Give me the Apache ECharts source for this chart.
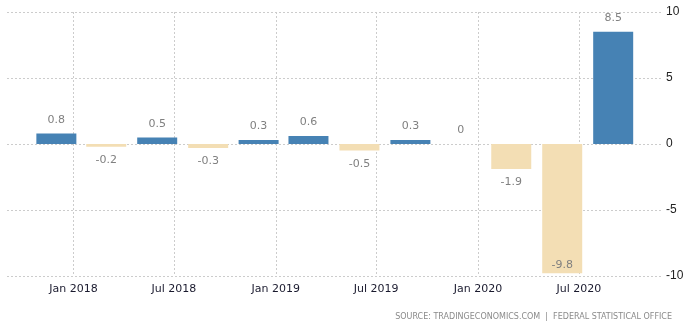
<!DOCTYPE html>
<html><head><meta charset="utf-8">
<script src="https://cdn.jsdelivr.net/npm/echarts@6/dist/echarts.min.js"></script>
<style>html,body{margin:0;padding:0;background:#fff}#c{width:692px;height:329px}</style>
</head><body><div id="c"></div>
<script>
var dates = ['2017-12-01','2018-03-01','2018-06-01','2018-09-01','2018-12-01','2019-03-01','2019-06-01','2019-09-01','2019-12-01','2020-03-01','2020-06-01','2020-09-01'];
var values = [0.8,-0.2,0.5,-0.3,0.3,0.6,-0.5,0.3,0,-1.9,-9.8,8.5];
var yTicks = [-10,-5,0,5,10];
var monthNames = ['Jan','Feb','Mar','Apr','May','Jun','Jul','Aug','Sep','Oct','Nov','Dec'];
var sourceText = 'SOURCE: TRADINGECONOMICS.COM  |  FEDERAL STATISTICAL OFFICE';
var DAY = 24*3600*1000;

var data = dates.map(function(d,i){
  var v = values[i];
  var lbl = {show:true, color:'#808080', fontSize:11, fontFamily:'DejaVu Sans', position: v<0?'bottom':'top', distance:8};
  if (v <= -9) { lbl.position = 'insideBottom'; lbl.distance = 3; }
  return {value:[d,v], itemStyle:{color: v<0 ? '#f3deb4' : '#4682b4'}, label:lbl};
});

var chart = echarts.init(document.getElementById('c'));
chart.setOption({
  animation:false,
  grid:{left:7, right:30, top:12, bottom:53},
  xAxis:{
    type:'time',
    min:'2017-10-09', max:'2020-10-23',
    minInterval:170*DAY, maxInterval:200*DAY,
    axisLine:{show:false},
    axisTick:{show:false},
    splitLine:{show:true, showMinLine:false, showMaxLine:false, lineStyle:{color:'#cccccc', type:[2,2]}},
    axisLabel:{color:'#1a1a2e', fontSize:11, fontFamily:'DejaVu Sans', margin:8, showMinLabel:false, showMaxLabel:false,
      formatter:function(v){var d=new Date(v); var m=d.getMonth(); if((m===0||m===6)&&d.getDate()===1) return monthNames[m]+' '+d.getFullYear(); return '';}}
  },
  yAxis:{
    type:'value', position:'right', min:yTicks[0], max:yTicks[yTicks.length-1], interval:5,
    axisLine:{show:false}, axisTick:{show:false},
    splitLine:{lineStyle:{color:'#cccccc', type:[2,2]}},
    axisLabel:{color:'#222', fontSize:12, fontFamily:'Liberation Sans', margin:4}
  },
  graphic:[{type:'text', right:20, top:313, style:{text:sourceText, fill:'#8a8a8a', font:'8px "DejaVu Sans"'}}],
  series:[{type:'bar', barWidth:40, data:data}]
});
</script></body></html>
